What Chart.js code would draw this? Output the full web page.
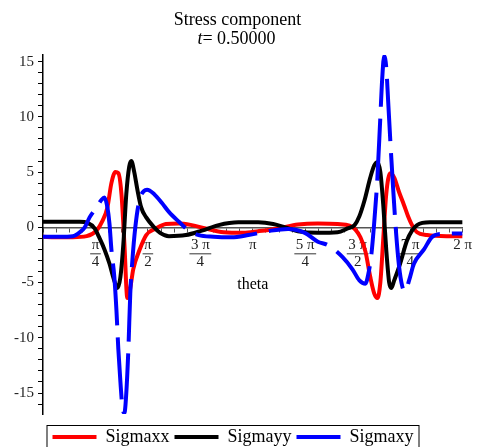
<!DOCTYPE html>
<html>
<head>
<meta charset="utf-8">
<title>Stress component</title>
<script src="https://cdn.jsdelivr.net/npm/chart.js@4.4.1/dist/chart.umd.min.js"></script>
<style>
  html, body { margin: 0; padding: 0; background: #fff; }
  #wrap { width: 477px; height: 447px; }
</style>
</head>
<body>
<div id="wrap"><canvas id="stress"></canvas></div>
<script>
// theta values are stored in units of pi
const xxTheta = [0, 0.057, 0.142, 0.208, 0.255, 0.284, 0.307, 0.326, 0.345, 0.359, 0.374, 0.388, 0.402, 0.416, 0.430, 0.459, 0.492, 0.539, 0.586, 0.648, 0.709, 0.775, 0.861, 0.955, 1.026, 1.121, 1.215, 1.310, 1.404, 1.461, 1.489, 1.513, 1.537, 1.560, 1.579, 1.594, 1.608, 1.622, 1.636, 1.655, 1.674, 1.697, 1.721, 1.740, 1.759, 1.783, 1.830, 1.924, 2.0];
const xxValues = [-0.85, -0.9, -0.9, -0.8, -0.3, 0.6, 1.8, 4.0, 5.0, 4.9, 3.0, -1.5, -6.4, -5.5, -3.8, -2.1, -0.7, -0.1, 0.3, 0.35, 0.2, -0.1, -0.45, -0.5, -0.35, -0.1, 0.25, 0.35, 0.3, 0.15, -0.2, -0.9, -2.2, -4.5, -6.0, -6.4, -5.0, -1.0, 3.0, 4.9, 4.5, 3.2, 2.0, 1.0, 0.2, -0.45, -0.7, -0.8, -0.8];

const yyTheta = [0, 0.080, 0.175, 0.213, 0.246, 0.270, 0.293, 0.317, 0.336, 0.355, 0.369, 0.383, 0.397, 0.411, 0.421, 0.435, 0.449, 0.468, 0.492, 0.530, 0.558, 0.600, 0.681, 0.757, 0.837, 0.931, 1.026, 1.097, 1.154, 1.215, 1.310, 1.404, 1.452, 1.485, 1.508, 1.532, 1.560, 1.579, 1.594, 1.608, 1.622, 1.636, 1.650, 1.660, 1.674, 1.702, 1.735, 1.759, 1.783, 1.844, 2.0];
const yyValues = [0.5, 0.5, 0.5, 0.4, -0.1, -1.0, -2.0, -3.3, -4.6, -5.5, -4.5, -1.5, 3.0, 5.5, 6.0, 5.0, 3.5, 1.8, 0.9, 0.0, -0.5, -0.8, -0.7, -0.3, 0.2, 0.45, 0.45, 0.3, 0.0, -0.35, -0.5, -0.45, -0.1, 0.2, 1.0, 2.4, 4.5, 5.6, 5.9, 5.0, 2.0, -2.0, -5.0, -5.5, -4.8, -3.3, -1.2, -0.3, 0.2, 0.45, 0.45];

const xyTheta = [0, 0.080, 0.142, 0.175, 0.199, 0.222, 0.255, 0.279, 0.293, 0.307, 0.317, 0.326, 0.340, 0.350, 0.359, 0.369, 0.378, 0.388, 0.397, 0.407, 0.416, 0.426, 0.440, 0.459, 0.482, 0.496, 0.530, 0.567, 0.600, 0.648, 0.695, 0.742, 0.813, 0.898, 0.979, 1.087, 1.168, 1.248, 1.310, 1.357, 1.428, 1.475, 1.508, 1.537, 1.551, 1.565, 1.579, 1.594, 1.608, 1.617, 1.626, 1.636, 1.645, 1.655, 1.669, 1.683, 1.697, 1.712, 1.726, 1.745, 1.768, 1.816, 1.853, 1.901, 2.0];
const xyValues = [-0.85, -0.85, -0.8, -0.45, 0.0, 0.9, 1.8, 2.5, 2.7, 1.8, 0.3, -2.0, -4.5, -7.5, -11, -14, -16.2, -16.8, -15, -11, -6, -3, 0, 2.4, 3.3, 3.4, 3.0, 2.2, 1.4, 0.5, -0.3, -0.7, -0.85, -0.9, -0.7, -0.3, -0.15, -0.5, -1.3, -1.6, -2.7, -3.8, -4.8, -5.1, -4.2, -2.5, 0.5, 4.5, 10, 13.5, 15.5, 14.5, 11.5, 8, 3.5, -0.5, -3.5, -5.3, -5.8, -4.8, -3.3, -2.0, -0.9, -0.6, -0.55];

const seriesNames = ['Sigmaxx', 'Sigmayy', 'Sigmaxy'];
const seriesColors = ['#ff0000', '#000000', '#0000ff'];

// x tick labels at k*pi/4, k = 1..8
const tickNumerators = ['π', 'π', '3 π', 'π', '5 π', '3 π', '7 π', '2 π'];
const tickDenominators = ['4', '2', '4', '', '4', '2', '4', ''];

const yMin = -16.9;
const yMax = 15.6;

const SERIF = "'Liberation Serif', 'Times New Roman', serif";

function toPoints(theta, values) {
  return theta.map((t, i) => ({ x: t * Math.PI, y: values[i] }));
}

// Title + subtitle (italic t)
const headerPlugin = {
  id: 'header',
  afterDraw(chart) {
    const ctx = chart.ctx;
    const cx = chart.width / 2;
    ctx.save();
    ctx.fillStyle = '#000';
    ctx.textBaseline = 'middle';
    ctx.textAlign = 'center';
    ctx.font = '18px ' + SERIF;
    ctx.fillText('Stress component', cx - 1, 20);
    const rest = '= 0.50000';
    ctx.font = 'italic 18px ' + SERIF;
    const wT = ctx.measureText('t').width;
    ctx.font = '18px ' + SERIF;
    const wR = ctx.measureText(rest).width;
    const x0 = cx - 2 - (wT + wR) / 2;
    ctx.textAlign = 'left';
    ctx.font = 'italic 18px ' + SERIF;
    ctx.fillText('t', x0, 39);
    ctx.font = '18px ' + SERIF;
    ctx.fillText(rest, x0 + wT, 39);
    ctx.restore();
  }
};

// Fraction bars under the pi numerators
const fractionPlugin = {
  id: 'fractionBars',
  beforeDatasetsDraw(chart) {
    const xs = chart.scales.x;
    const ys = chart.scales.y;
    const ctx = chart.ctx;
    const barY = ys.getPixelForValue(0) + 4 + 5 + 17;
    ctx.save();
    ctx.font = '15px ' + SERIF;
    ctx.strokeStyle = '#333';
    ctx.lineWidth = 1;
    tickNumerators.forEach((num, i) => {
      const den = tickDenominators[i];
      if (!den) return;
      const px = xs.getPixelForValue((i + 1) * Math.PI / 4);
      const w = Math.max(ctx.measureText(num).width, ctx.measureText(den).width) + 3;
      ctx.beginPath();
      ctx.moveTo(px - w / 2, barY + 0.5);
      ctx.lineTo(px + w / 2, barY + 0.5);
      ctx.stroke();
    });
    ctx.restore();
  }
};

// Push the legend row down (its frame runs off the bottom edge) and box it
const legendBoxPlugin = {
  id: 'legendBox',
  afterLayout(chart) {
    if (!chart.legend) return;
    chart.legend.top += 9;
    chart.legend.bottom += 9;
  },
  afterDraw(chart) {
    const boxes = chart.legend && chart.legend.legendHitBoxes;
    if (!boxes || !boxes.length) return;
    const first = boxes[0];
    const last = boxes[boxes.length - 1];
    const ctx = chart.ctx;
    ctx.save();
    ctx.strokeStyle = '#000';
    ctx.lineWidth = 1;
    ctx.strokeRect(first.left - 5.5, 425.5, last.left + last.width - first.left + 11, 40);
    ctx.restore();
  }
};

const datasets = [
  { label: seriesNames[0], data: toPoints(xxTheta, xxValues), borderColor: seriesColors[0], backgroundColor: seriesColors[0], order: 3 },
  { label: seriesNames[1], data: toPoints(yyTheta, yyValues), borderColor: seriesColors[1], backgroundColor: seriesColors[1], order: 2 },
  { label: seriesNames[2], data: toPoints(xyTheta, xyValues), borderColor: seriesColors[2], backgroundColor: seriesColors[2], order: 1, borderDash: [62, 12] }
].map(ds => Object.assign({
  borderWidth: 4,
  pointRadius: 0,
  fill: false,
  cubicInterpolationMode: 'monotone'
}, ds));

new Chart(document.getElementById('stress'), {
  type: 'line',
  data: { datasets: datasets },
  options: {
    responsive: true,
    maintainAspectRatio: false,
    animation: false,
    layout: { padding: { top: 55, right: 11, bottom: 0, left: 0 } },
    plugins: {
      title: { display: false },
      tooltip: { enabled: false },
      legend: {
        position: 'bottom',
        labels: {
          color: '#000',
          font: { family: SERIF, size: 18 },
          boxWidth: 44,
          boxHeight: 4,
          padding: 5,
          sort: (a, b) => a.datasetIndex - b.datasetIndex,
          generateLabels(chart) {
            const items = Chart.defaults.plugins.legend.labels.generateLabels(chart);
            items.forEach(it => { it.lineWidth = 0; it.lineDash = []; });
            return items;
          }
        }
      }
    },
    scales: {
      x: {
        type: 'linear',
        position: { y: 0 },
        min: 0,
        max: 2 * Math.PI,
        afterBuildTicks(scale) {
          const t = [];
          for (let k = 0; k <= 32; k++) t.push({ value: k * Math.PI / 16 });
          scale.ticks = t;
        },
        grid: { drawOnChartArea: false, drawTicks: true, tickLength: 4, tickColor: '#555' },
        border: { display: true, color: '#555', width: 1.5 },
        ticks: {
          autoSkip: false,
          maxRotation: 0,
          minRotation: 0,
          padding: 5,
          color: '#222',
          font: { family: SERIF, size: 15, lineHeight: '17px' },
          callback(value, index) {
            if (index === 0 || index % 4 !== 0) return '';
            const k = index / 4 - 1;
            return tickDenominators[k] ? [tickNumerators[k], tickDenominators[k]] : tickNumerators[k];
          }
        },
        title: {
          display: true,
          text: 'theta',
          color: '#000',
          font: { family: SERIF, size: 16 },
          padding: { top: 0, bottom: 0 }
        }
      },
      y: {
        type: 'linear',
        min: yMin,
        max: yMax,
        afterFit(scale) { scale.width = 43; },
        grid: { drawOnChartArea: false, drawTicks: true, tickLength: 5, tickColor: '#000' },
        border: { display: true, color: '#000', width: 1.5 },
        ticks: {
          stepSize: 1,
          includeBounds: false,
          autoSkip: false,
          padding: 4,
          color: '#222',
          font: { family: SERIF, size: 15 },
          callback(value) { return value % 5 === 0 ? String(value) : ''; }
        }
      }
    }
  },
  plugins: [headerPlugin, fractionPlugin, legendBoxPlugin]
});
</script>
</body>
</html>
